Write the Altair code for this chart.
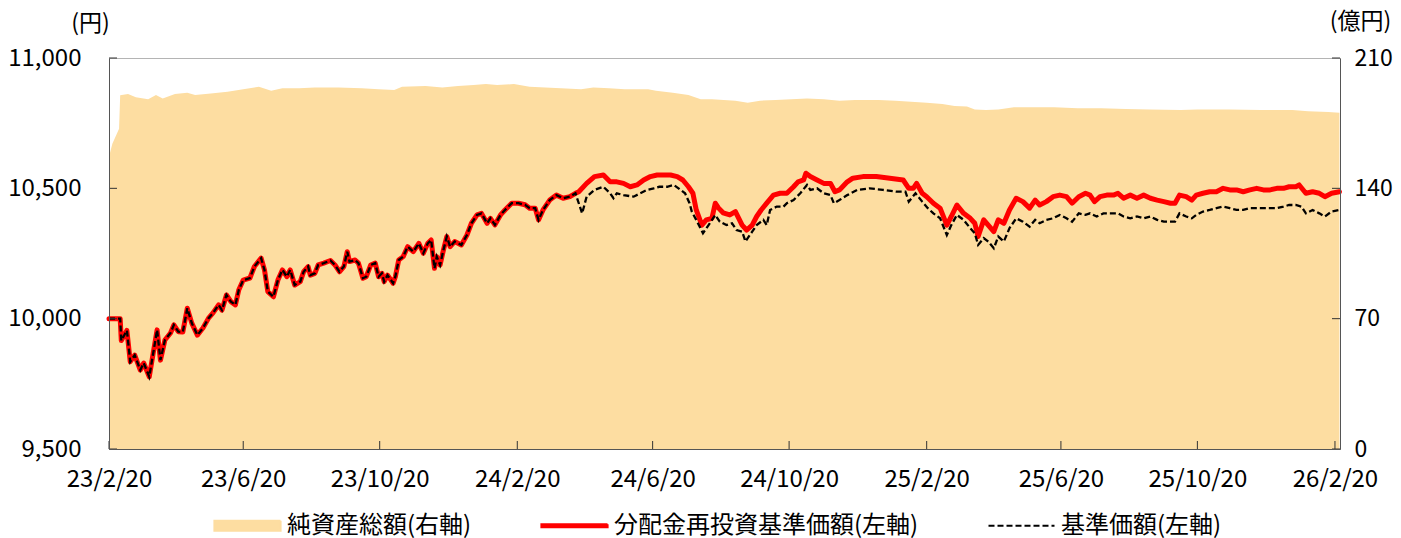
import altair as alt
import pandas as pd

START = "2023-02-20"

# --- values (day offsets from 2023-02-20) ---
COMMON_DAYS = [0, 10, 11, 16, 19, 23, 28, 31, 36, 40,
               43, 46, 50, 55, 58, 62, 66, 70, 74, 79,
               84, 89, 93, 98, 101, 105, 109, 113, 116, 120,
               126, 130, 136, 139, 142, 147, 151, 155, 159, 162,
               166, 171, 174, 178, 180, 184, 187, 192, 198, 202,
               206, 210, 213, 215, 220, 223, 227, 230, 234, 238,
               241, 244, 246, 249, 254, 256, 259, 263, 267, 272,
               277, 281, 285, 288, 291, 293, 296, 299, 302, 305,
               309, 315, 320, 324, 329, 333, 338, 341, 345, 350,
               354, 360, 366, 372, 376, 381, 384, 388, 394, 400,
               406, 412, 417]
COMMON_VALS = [10000, 10000, 9916, 9955, 9835, 9860, 9803, 9830, 9777, 9880,
               9957, 9841, 9918, 9945, 9976, 9950, 9949, 10040, 9983, 9937,
               9964, 10002, 10022, 10053, 10033, 10091, 10065, 10053, 10110, 10148,
               10156, 10200, 10232, 10187, 10104, 10084, 10148, 10187, 10161, 10187,
               10129, 10142, 10180, 10200, 10167, 10174, 10206, 10213, 10223, 10206,
               10180, 10200, 10257, 10219, 10225, 10213, 10155, 10161, 10206, 10213,
               10161, 10174, 10142, 10167, 10136, 10161, 10225, 10238, 10276, 10257,
               10289, 10251, 10289, 10302, 10193, 10238, 10206, 10264, 10315, 10276,
               10296, 10283, 10321, 10366, 10398, 10404, 10366, 10385, 10360, 10398,
               10417, 10443, 10443, 10437, 10424, 10424, 10379, 10417, 10455, 10474,
               10462, 10468, 10481]

NAV_DAYS = [420, 427, 434, 442, 448, 454, 460, 466, 472, 478,
            484, 490, 496, 502, 508, 513, 518, 522, 525, 530,
            534, 539, 542, 545, 549, 555, 560, 563, 566, 570,
            575, 579, 583, 588, 594, 600, 606, 612, 616, 621,
            623, 627, 633, 639, 645, 649, 653, 660, 665, 674,
            686, 698, 710, 715, 719, 722, 727, 731, 737, 743,
            749, 753, 758, 764, 770, 774, 777, 782, 786, 791,
            795, 800, 805, 811, 817, 823, 828, 832, 838, 844,
            850, 856, 861, 867, 873, 877, 881, 886, 892, 898,
            902, 907, 913, 919, 925, 931, 937, 943, 949, 953,
            957, 963, 968, 972, 978, 984, 990, 996, 1002, 1008,
            1014, 1020, 1026, 1032, 1038, 1044, 1050, 1055, 1061, 1064,
            1070, 1076, 1082, 1087, 1093, 1100]
NAV_VALS = [10487, 10519, 10545, 10551, 10525, 10525, 10519, 10506, 10513, 10532,
            10545, 10551, 10551, 10551, 10545, 10532, 10506, 10481, 10417, 10359,
            10379, 10385, 10443, 10424, 10406, 10398, 10411, 10385, 10359, 10340,
            10359, 10392, 10417, 10443, 10474, 10481, 10481, 10506, 10525, 10532,
            10558, 10545, 10532, 10519, 10519, 10487, 10494, 10525, 10539, 10545,
            10545, 10539, 10532, 10500, 10500, 10519, 10481, 10468, 10443, 10424,
            10359, 10392, 10436, 10404, 10385, 10366, 10315, 10379, 10359, 10334,
            10379, 10366, 10417, 10462, 10449, 10424, 10455, 10436, 10449, 10468,
            10474, 10468, 10443, 10468, 10481, 10474, 10449, 10468, 10474, 10474,
            10481, 10462, 10474, 10462, 10474, 10462, 10455, 10449, 10443, 10443,
            10474, 10468, 10455, 10474, 10481, 10487, 10487, 10500, 10494, 10494,
            10487, 10494, 10500, 10494, 10494, 10500, 10500, 10506, 10506, 10513,
            10481, 10487, 10481, 10468, 10481, 10487]

BASE_DAYS = [423, 427, 434, 442, 448, 451, 454, 460, 469, 475,
             481, 487, 492, 499, 505, 511, 515, 519, 521, 525,
             531, 536, 542, 546, 552, 557, 561, 566, 569, 575,
             579, 585, 588, 591, 597, 603, 606, 612, 618, 624,
             627, 633, 639, 645, 648, 653, 660, 669, 680, 692,
             704, 712, 715, 721, 727, 732, 737, 743, 749, 753,
             758, 764, 770, 774, 777, 782, 786, 791, 795, 800,
             805, 811, 817, 823, 828, 832, 838, 844, 850, 856,
             861, 867, 873, 877, 883, 889, 895, 902, 907, 913,
             919, 925, 931, 937, 943, 949, 953, 957, 963, 968,
             972, 978, 984, 990, 996, 1002, 1008, 1014, 1020, 1026,
             1032, 1038, 1044, 1050, 1055, 1061, 1066, 1070, 1076, 1082,
             1087, 1093, 1100]
BASE_VALS = [10404, 10468, 10494, 10506, 10481, 10462, 10481, 10474, 10468, 10481,
             10494, 10500, 10506, 10506, 10513, 10494, 10481, 10443, 10411, 10379,
             10328, 10359, 10398, 10372, 10359, 10366, 10340, 10334, 10296, 10334,
             10359, 10379, 10359, 10417, 10430, 10430, 10443, 10455, 10481, 10513,
             10494, 10500, 10481, 10474, 10443, 10455, 10474, 10494, 10500, 10494,
             10487, 10487, 10449, 10481, 10449, 10424, 10404, 10385, 10321, 10359,
             10398, 10379, 10347, 10328, 10283, 10309, 10296, 10270, 10315, 10296,
             10347, 10385, 10372, 10353, 10379, 10366, 10379, 10385, 10398, 10385,
             10372, 10404, 10398, 10404, 10392, 10404, 10404, 10404, 10392, 10385,
             10392, 10385, 10392, 10379, 10372, 10372, 10372, 10404, 10392, 10385,
             10398, 10411, 10417, 10424, 10430, 10424, 10417, 10417, 10424, 10424,
             10424, 10424, 10424, 10430, 10436, 10436, 10430, 10404, 10417, 10404,
             10392, 10411, 10417]

AUM_DAYS = [0, 3, 6, 9, 10, 17, 24, 35, 42, 48,
            59, 70, 77, 91, 106, 120, 134, 145, 155, 170,
            184, 205, 226, 241, 255, 262, 283, 298, 312, 326,
            337, 347, 362, 376, 390, 404, 422, 433, 447, 461,
            482, 489, 504, 518, 529, 539, 560, 571, 582, 596,
            610, 624, 639, 653, 667, 688, 703, 717, 731, 745,
            756, 767, 774, 784, 795, 809, 823, 845, 866, 887,
            909, 930, 958, 973, 1001, 1030, 1058, 1072, 1090, 1100]
AUM_VALS = [157, 164, 168, 172, 190, 190.7, 188.9, 187.8, 190.1, 188.3,
            190.7, 191.4, 190.1, 191, 191.9, 193.2, 194.6, 192.4, 193.7, 193.7,
            194.2, 194.2, 193.7, 193.2, 192.8, 194.6, 195, 194.2, 195, 195.5,
            196, 195.5, 196, 194.6, 194.2, 193.7, 193.2, 194.2, 193.7, 193.2,
            193.2, 192.4, 191.4, 190.1, 187.8, 187.8, 187.1, 186, 187.1, 187.4,
            187.8, 188.3, 187.8, 187.1, 187.4, 187.4, 187.1, 186.5, 186, 185.3,
            184.2, 183.9, 182.4, 182.1, 182.4, 183.5, 183.5, 183.5, 183, 183,
            182.6, 182.4, 182.1, 182.4, 182.4, 182.1, 182.1, 181.4, 181, 180.6]

S_AUM = "純資産総額(右軸)"
S_NAV = "分配金再投資基準価額(左軸)"
S_BASE = "基準価額(左軸)"
SERIES = [S_AUM, S_NAV, S_BASE]
COLORS = ["#FDDDA1", "#FF0000", "#000000"]

LEFT_TICKS = [9500, 10000, 10500, 11000]
RIGHT_TICKS = [0, 70, 140, 210]
X_TICKS = ["2023-02-20", "2023-06-20", "2023-10-20", "2024-02-20", "2024-06-20",
           "2024-10-20", "2025-02-20", "2025-06-20", "2025-10-20", "2026-02-20"]

FONT = "Noto Sans CJK JP"
W, H = 1231, 391
TICK = 8

start = pd.Timestamp(START)


def frame(days, vals, name):
    df = pd.DataFrame({"date": start + pd.to_timedelta(days, unit="D"), "value": vals})
    df["series"] = name
    return df


aum_df = frame(AUM_DAYS, AUM_VALS, S_AUM)
nav_df = frame(COMMON_DAYS + NAV_DAYS, COMMON_VALS + NAV_VALS, S_NAV)
base_df = frame(COMMON_DAYS + BASE_DAYS, COMMON_VALS + BASE_VALS, S_BASE)

tick_dates = pd.to_datetime(X_TICKS)
xt_df = pd.DataFrame({"date": tick_dates})
lt_df = pd.DataFrame({"value": LEFT_TICKS})
rt_df = pd.DataFrame({"value": RIGHT_TICKS})

dt_values = [alt.DateTime(year=d.year, month=d.month, date=d.day) for d in tick_dates]

x_enc = alt.X(
    "date:T",
    scale=alt.Scale(domain=[alt.DateTime(year=2023, month=2, date=20),
                            alt.DateTime(year=2026, month=2, date=24, hours=12)], nice=False),
    axis=alt.Axis(values=dt_values, format="%y/%-m/%-d", title=None, labelFlush=False,
                  labelOverlap=False, labelPadding=18, zindex=1),
)

yL_scale = alt.Scale(domain=[9500, 11000], nice=False, zero=False)
yL_axis = alt.Axis(orient="left", values=LEFT_TICKS, labelExpr="format(datum.value, ',')",
                   title="(円)", titleAngle=0,
                   titleX=-19, titleY=-35, titleAlign="center", titleBaseline="middle",
                   labelPadding=28, zindex=1)
yR_scale = alt.Scale(domain=[0, 210], nice=False)
yR_axis = alt.Axis(orient="right", values=RIGHT_TICKS, title="(億円)", titleAngle=0,
                   titleX=20, titleY=-37, titleAlign="center", titleBaseline="middle",
                   labelPadding=14, labelAlign="left", labelFontSize=23, zindex=1)

is_aum = "datum.value === '" + S_AUM + "'"
is_base = "datum.value === '" + S_BASE + "'"
is_nav = "datum.value === '" + S_NAV + "'"

legend = alt.Legend(
    title=None, orient="none", direction="horizontal", legendX=104, legendY=433,
    symbolType=alt.ExprRef(expr=is_aum + " ? 'M-1,-0.15H1V0.15H-1Z' : (" + is_nav
                           + " ? 'M-1,-0.045H1V0.045H-1Z' : 'stroke')"),
    symbolSize=66 * 66,
    symbolStrokeWidth=2.2,
    symbolDash=alt.ExprRef(expr=is_base + " ? [6, 3] : [1, 0]"),
    symbolFillColor=alt.ExprRef(expr=is_aum + " ? '" + COLORS[0] + "' : (" + is_nav
                                + " ? '#FF0000' : 'transparent')"),
    symbolStrokeColor=alt.ExprRef(expr=is_aum + " ? '" + COLORS[0] + "' : (" + is_base
                                  + " ? '#000000' : '#FF0000')"),
    symbolOpacity=1,
    labelFont=FONT, labelFontSize=24, labelColor="#000000", labelOffset=5, labelLimit=600,
    columnPadding=65,
)

color_scale = alt.Scale(domain=SERIES, range=COLORS)
color_enc = alt.Color("series:N", scale=color_scale, legend=legend)

area = alt.Chart(aum_df).mark_area(opacity=1).encode(
    x=x_enc,
    y=alt.Y("value:Q", scale=yR_scale, axis=yR_axis),
    color=color_enc,
)
rticks = alt.Chart(rt_df).mark_rule(color="#333333", strokeWidth=1).encode(
    y=alt.Y("value:Q", scale=yR_scale, axis=yR_axis),
    x=alt.value(W - TICK), x2=alt.value(W),
)
right_group = alt.layer(area, rticks)

nav = alt.Chart(nav_df).mark_line(strokeWidth=5, strokeJoin="round", strokeCap="round").encode(
    x=x_enc,
    y=alt.Y("value:Q", scale=yL_scale, axis=yL_axis),
    color=color_enc,
)
base = alt.Chart(base_df).mark_line(strokeWidth=2.3, strokeDash=[6, 3]).encode(
    x=x_enc,
    y=alt.Y("value:Q", scale=yL_scale, axis=yL_axis),
    color=color_enc,
)
lticks = alt.Chart(lt_df).mark_rule(color="#333333", strokeWidth=1).encode(
    y=alt.Y("value:Q", scale=yL_scale, axis=yL_axis),
    x=alt.value(0), x2=alt.value(TICK),
)
xticks = alt.Chart(xt_df).mark_rule(color="#333333", strokeWidth=1).encode(
    x=x_enc,
    y=alt.value(H - TICK), y2=alt.value(H),
)
left_group = alt.layer(nav, base, lticks, xticks)

chart = alt.layer(right_group, left_group).resolve_scale(y="independent").properties(
    width=W, height=H,
    autosize=alt.AutoSizeParams(type="none"),
    padding={"left": 101, "top": 50, "right": 53, "bottom": 89},
    background="#ffffff",
).configure_view(
    stroke="#b4b4b4", strokeWidth=1,
).configure_axis(
    labelFont=FONT, labelFontSize=24, labelColor="#000000",
    titleFont=FONT, titleFontSize=23, titleColor="#000000", titleFontWeight="normal",
    domainColor="#555555", domainWidth=1, ticks=False, grid=False,
)

chart.save("out.html", embed_options={"renderer": "svg", "actions": False})
